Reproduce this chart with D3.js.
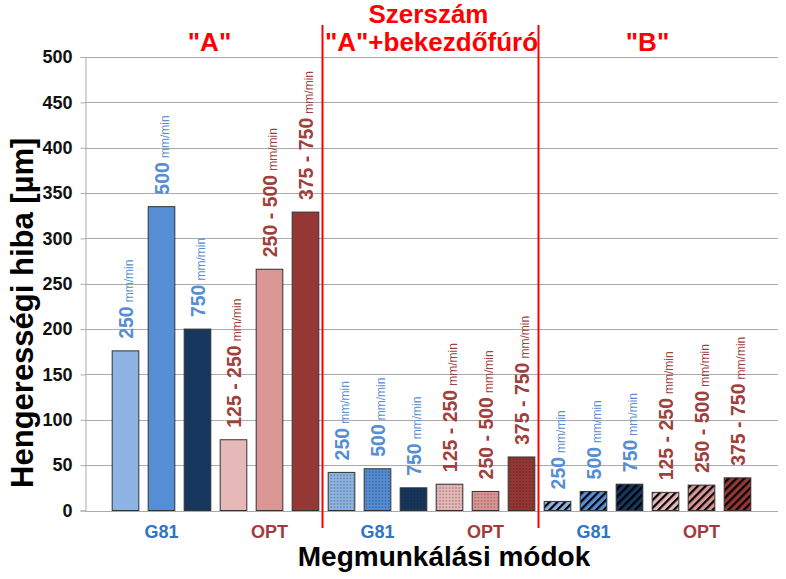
<!DOCTYPE html>
<html><head><meta charset="utf-8">
<script src="https://cdn.jsdelivr.net/npm/d3@7"></script>
<style>body{margin:0;background:#fff;font-family:"Liberation Sans",Arial,sans-serif;}</style>
</head><body><svg id="c" width="786" height="579"></svg>
<script>
const groupNames = ['"A"', '"A"+bekezdőfúró', '"B"'];
const speeds = ["250", "500", "750", "125 - 250", "250 - 500", "375 - 750"];
const modes = ["G81", "G81", "G81", "OPT", "OPT", "OPT"];
const valuesA = [176, 335, 200, 78, 266, 329];
const valuesAB = [42, 46, 25, 29, 21, 59];
const valuesB = [10, 21, 29, 20, 28, 36];
const yTicks = [0, 50, 100, 150, 200, 250, 300, 350, 400, 450, 500];
const fills = ["#8DB4E2", "#558ED5", "#17375E", "#E6B9B8", "#D99694", "#953735"];
const patterns = ["solid", "dots", "stripes"];

const svg = d3.select("#c");
const plot = {l: 85, r: 778, t: 57, b: 510.5};

const rows = [];
[valuesA, valuesAB, valuesB].forEach((vals, g) => {
  vals.forEach((v, i) => rows.push({id: g + "-" + i, g, i, v, speed: speeds[i], mode: modes[i]}));
});

const x = d3.scaleBand().domain(rows.map(d => d.id)).range([plot.l, plot.r]).paddingInner(0.26).paddingOuter(0.755);
const y = d3.scaleLinear().domain([0, 500]).range([plot.b, plot.t]);

// patterns
const defs = svg.append("defs");
fills.forEach((c, i) => {
  const pd = defs.append("pattern").attr("id", "dots" + i).attr("patternUnits", "userSpaceOnUse").attr("width", 3.2).attr("height", 3.2);
  pd.append("rect").attr("width", 3.2).attr("height", 3.2).attr("fill", c);
  pd.append("circle").attr("cx", 1.6).attr("cy", 1.6).attr("r", 0.65).attr("fill", "#000").attr("opacity", 0.55);
  const ps = defs.append("pattern").attr("id", "stripes" + i).attr("patternUnits", "userSpaceOnUse").attr("width", 5.5).attr("height", 5.5).attr("patternTransform", "rotate(45)");
  ps.append("rect").attr("width", 5.5).attr("height", 5.5).attr("fill", c);
  ps.append("rect").attr("x", 0).attr("y", 0).attr("width", 2.2).attr("height", 5.5).attr("fill", "#000");
});

// gridlines
svg.append("g").selectAll("line").data(yTicks).join("line")
  .attr("x1", plot.l).attr("x2", plot.r).attr("y1", d => Math.round(y(d)) + 0.5).attr("y2", d => Math.round(y(d)) + 0.5)
  .attr("stroke", "#ABABAB").attr("stroke-width", 1);

// y axis
const yAxis = svg.append("g").attr("transform", `translate(${plot.l + 0.5},0)`)
  .call(d3.axisLeft(y).tickValues(yTicks).tickSize(5).tickPadding(8).tickFormat(d3.format("d")));
yAxis.select(".domain").attr("stroke", "#ABABAB");
yAxis.selectAll(".tick line").attr("stroke", "#ABABAB");
yAxis.selectAll(".tick text").attr("font-family", "Liberation Sans, Arial, sans-serif").attr("font-size", 18).attr("font-weight", "bold").attr("fill", "#111");

// bars
svg.append("g").selectAll("rect").data(rows).join("rect")
  .attr("x", d => x(d.id)).attr("width", x.bandwidth())
  .attr("y", d => y(d.v)).attr("height", d => y(0) - y(d.v))
  .attr("fill", d => d.g === 0 ? fills[d.i] : `url(#${patterns[d.g]}${d.i})`)
  .attr("stroke", "#333").attr("stroke-width", 1);

// rotated labels
const lbl = svg.append("g").selectAll("text").data(rows).join("text")
  .attr("transform", d => `translate(${x(d.id) + x.bandwidth() / 2 + 7},${y(d.v) - 12}) rotate(-90)`)
  .attr("fill", d => d.mode === "G81" ? "#558ED5" : "#A0403C")
  .attr("font-family", "Liberation Sans, Arial, sans-serif");
lbl.append("tspan").attr("font-size", 19.5).attr("font-weight", "bold").text(d => d.speed);
lbl.append("tspan").attr("font-size", 12).attr("dx", 4).text("mm/min");

// mode labels (G81 / OPT)
const modeGroups = [];
[0, 1, 2].forEach(g => {
  ["G81", "OPT"].forEach(m => {
    const ids = rows.filter(r => r.g === g && r.mode === m).map(r => r.id);
    const x0 = x(ids[0]), x1 = x(ids[ids.length - 1]) + x.bandwidth();
    modeGroups.push({m, cx: (x0 + x1) / 2});
  });
});
svg.append("g").selectAll("text").data(modeGroups).join("text")
  .attr("x", d => d.cx).attr("y", 538).attr("text-anchor", "middle")
  .attr("font-size", 18).attr("font-weight", "bold")
  .attr("fill", d => d.m === "G81" ? "#2F75C2" : "#A33B3B").text(d => d.m);

// red separators
const seps = [1, 2].map(g => {
  const first = rows.find(r => r.g === g).id;
  return x(first) - x.step() * x.paddingInner() / 2 - 1;
});
svg.append("g").selectAll("line").data(seps).join("line")
  .attr("x1", d => d).attr("x2", d => d).attr("y1", 25).attr("y2", 528)
  .attr("stroke", "#FF0000").attr("stroke-width", 2);

// group titles
const gTitles = groupNames.map((n, g) => {
  const ids = rows.filter(r => r.g === g).map(r => r.id);
  return {n, cx: (x(ids[0]) + x(ids[ids.length - 1]) + x.bandwidth()) / 2 + (g === 0 ? -6 : 0)};
});
svg.append("g").selectAll("text").data(gTitles).join("text")
  .attr("x", d => d.cx).attr("y", 51).attr("text-anchor", "middle")
  .attr("font-size", 26).attr("font-weight", "bold").attr("fill", "#FF0000").text(d => d.n);
svg.append("text").attr("x", (x(rows[6].id) + x(rows[11].id) + x.bandwidth()) / 2 - 3).attr("y", 23)
  .attr("text-anchor", "middle").attr("font-size", 26).attr("font-weight", "bold").attr("fill", "#FF0000").text("Szerszám");

// axis titles
svg.append("text").attr("transform", `translate(33,${(plot.t + plot.b) / 2 + 29}) rotate(-90)`)
  .attr("text-anchor", "middle").attr("font-size", 31).attr("font-weight", "bold").attr("fill", "#000")
  .text("Hengerességi hiba [µm]");
svg.append("text").attr("x", 444).attr("y", 566).attr("text-anchor", "middle")
  .attr("font-size", 28).attr("font-weight", "bold").attr("fill", "#000").text("Megmunkálási módok");
</script></body></html>
